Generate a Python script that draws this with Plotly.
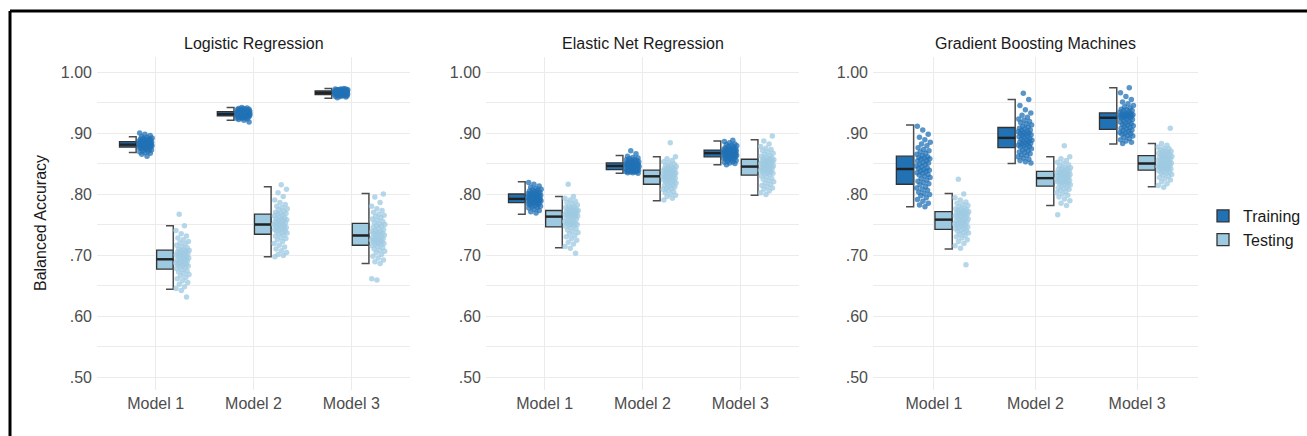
import plotly.graph_objects as go

W, H = 1307, 436

PANELS = ["Logistic Regression", "Elastic Net Regression", "Gradient Boosting Machines"]
MODELS = ["Model 1", "Model 2", "Model 3"]
GROUPS = ["Training", "Testing"]
Y_TICKVALS = [0.50, 0.55, 0.60, 0.65, 0.70, 0.75, 0.80, 0.85, 0.90, 0.95, 1.00]
Y_TICKTEXT = [".50", "", ".60", "", ".70", "", ".80", "", ".90", "", "1.00"]

# ---- box statistics: [panel][model] ----
TRAIN_LO = [[0.868, 0.921, 0.957], [0.767, 0.834, 0.848], [0.779, 0.850, 0.882]]
TRAIN_Q1 = [[0.877, 0.928, 0.963], [0.786, 0.840, 0.861], [0.816, 0.876, 0.906]]
TRAIN_MED = [[0.881, 0.931, 0.966], [0.792, 0.846, 0.867], [0.841, 0.892, 0.925]]
TRAIN_Q3 = [[0.886, 0.935, 0.969], [0.800, 0.851, 0.872], [0.862, 0.909, 0.933]]
TRAIN_HI = [[0.894, 0.942, 0.973], [0.820, 0.863, 0.887], [0.913, 0.955, 0.974]]

TEST_LO = [[0.644, 0.697, 0.686], [0.712, 0.789, 0.798], [0.710, 0.781, 0.812]]
TEST_Q1 = [[0.677, 0.734, 0.716], [0.746, 0.816, 0.831], [0.742, 0.813, 0.839]]
TEST_MED = [[0.693, 0.750, 0.732], [0.763, 0.829, 0.845], [0.758, 0.826, 0.850]]
TEST_Q3 = [[0.708, 0.767, 0.752], [0.773, 0.839, 0.857], [0.771, 0.837, 0.863]]
TEST_HI = [[0.748, 0.812, 0.801], [0.796, 0.861, 0.889], [0.801, 0.861, 0.883]]

# ---- individual runs (balanced accuracy x 1000) ----
LR_TRAIN_M1 = [862, 865, 867, 868, 869, 870, 871, 872, 873, 874, 874, 875, 876, 876, 877,
               877, 878, 878, 878, 879, 879, 879, 880, 880, 880, 880, 881, 881, 881, 881,
               882, 882, 882, 883, 883, 883, 884, 884, 884, 885, 885, 885, 886, 886, 886,
               887, 887, 888, 888, 889, 889, 890, 890, 891, 892, 893, 894, 896, 898, 900]
LR_TRAIN_M2 = [918, 921, 922, 923, 924, 924, 925, 925, 926, 926, 927, 927, 927, 928, 928,
               928, 929, 929, 929, 929, 930, 930, 930, 930, 930, 931, 931, 931, 931, 931,
               932, 932, 932, 932, 933, 933, 933, 933, 934, 934, 934, 934, 935, 935, 935,
               935, 936, 936, 936, 937, 937, 937, 938, 938, 939, 939, 940, 940, 941, 942]
LR_TRAIN_M3 = [958, 959, 960, 960, 961, 961, 961, 962, 962, 962, 962, 963, 963, 963, 963,
               964, 964, 964, 964, 964, 965, 965, 965, 965, 965, 965, 966, 966, 966, 966,
               966, 967, 967, 967, 967, 967, 968, 968, 968, 968, 968, 969, 969, 969, 969,
               969, 969, 970, 970, 970, 970, 970, 971, 971, 971, 971, 972, 972, 972, 973]
LR_TEST_M1 = [631, 642, 645, 648, 652, 655, 658, 661, 663, 666, 668, 670, 672, 674, 676,
              678, 679, 681, 682, 683, 684, 685, 686, 687, 688, 689, 690, 691, 692, 693,
              694, 695, 696, 697, 698, 699, 700, 701, 702, 703, 704, 705, 706, 707, 708,
              709, 710, 712, 714, 716, 718, 720, 722, 725, 728, 731, 735, 740, 748, 767]
LR_TEST_M2 = [697, 699, 701, 704, 707, 710, 713, 716, 719, 722, 725, 727, 729, 731, 733,
              735, 736, 737, 739, 740, 741, 742, 743, 744, 745, 746, 747, 748, 749, 750,
              751, 752, 753, 754, 755, 756, 757, 758, 759, 760, 761, 762, 764, 765, 767,
              768, 769, 770, 772, 774, 776, 778, 780, 783, 786, 790, 796, 802, 808, 815]
LR_TEST_M3 = [659, 661, 686, 689, 692, 695, 698, 701, 704, 706, 708, 710, 712, 714, 715,
              717, 718, 719, 720, 721, 722, 723, 724, 725, 726, 727, 728, 729, 730, 731,
              733, 734, 735, 736, 737, 738, 739, 740, 742, 744, 745, 747, 748, 750, 751,
              753, 755, 757, 759, 761, 763, 765, 767, 770, 773, 776, 780, 786, 795, 800]

EN_TRAIN_M1 = [769, 771, 773, 775, 777, 778, 779, 780, 781, 782, 783, 784, 784, 785, 786,
               786, 787, 787, 788, 788, 789, 789, 790, 790, 790, 791, 791, 791, 792, 792,
               793, 793, 794, 794, 795, 795, 796, 796, 797, 797, 798, 798, 799, 799, 800,
               800, 801, 802, 802, 803, 804, 805, 806, 807, 808, 809, 811, 813, 816, 819]
EN_TRAIN_M2 = [834, 835, 835, 836, 836, 837, 837, 837, 838, 838, 838, 839, 839, 839, 840,
               840, 841, 841, 842, 842, 842, 843, 843, 843, 844, 844, 845, 845, 845, 846,
               846, 847, 847, 847, 848, 848, 848, 849, 849, 849, 850, 850, 850, 851, 851,
               852, 852, 853, 853, 854, 855, 855, 856, 857, 858, 859, 860, 862, 866, 871]
EN_TRAIN_M3 = [848, 850, 851, 852, 853, 854, 855, 856, 857, 858, 858, 859, 859, 860, 861,
               861, 862, 862, 863, 863, 864, 864, 865, 865, 865, 866, 866, 866, 867, 867,
               867, 868, 868, 868, 869, 869, 869, 870, 870, 870, 871, 871, 871, 872, 872,
               873, 873, 874, 874, 875, 876, 877, 878, 879, 880, 881, 882, 884, 886, 888]
EN_TEST_M1 = [703, 711, 714, 718, 721, 724, 727, 730, 732, 735, 737, 739, 741, 743, 745,
              747, 748, 749, 750, 751, 752, 753, 754, 755, 756, 757, 759, 760, 761, 762,
              763, 764, 764, 765, 766, 767, 767, 768, 769, 770, 770, 771, 772, 772, 773,
              774, 775, 776, 777, 778, 779, 780, 782, 784, 786, 788, 790, 793, 796, 816]
EN_TEST_M2 = [790, 793, 796, 798, 800, 802, 804, 806, 808, 809, 810, 812, 813, 814, 815,
              817, 818, 819, 820, 821, 822, 823, 824, 825, 826, 826, 827, 828, 828, 829,
              830, 830, 831, 832, 832, 833, 834, 834, 835, 836, 836, 837, 838, 838, 839,
              840, 841, 842, 843, 844, 845, 846, 847, 849, 851, 853, 855, 858, 861, 884]
EN_TEST_M3 = [799, 802, 805, 808, 810, 812, 814, 816, 818, 820, 822, 824, 826, 828, 830,
              832, 833, 834, 835, 836, 837, 838, 839, 840, 841, 842, 842, 843, 844, 845,
              846, 847, 847, 848, 849, 850, 851, 851, 852, 853, 854, 855, 855, 856, 857,
              858, 859, 860, 862, 863, 865, 867, 869, 871, 873, 875, 878, 882, 887, 895]

GBM_TRAIN_M1 = [779, 782, 785, 788, 791, 794, 797, 799, 801, 803, 806, 808, 810, 812, 815,
                817, 819, 821, 823, 825, 827, 829, 831, 832, 834, 835, 837, 838, 839, 840,
                842, 843, 845, 846, 848, 849, 851, 852, 854, 855, 857, 858, 859, 860, 861,
                863, 865, 867, 869, 871, 873, 876, 879, 882, 885, 889, 893, 898, 905, 911]
GBM_TRAIN_M2 = [851, 853, 855, 857, 859, 861, 863, 864, 866, 868, 869, 871, 872, 874, 875,
                877, 878, 879, 880, 881, 882, 883, 884, 885, 886, 887, 888, 889, 890, 891,
                893, 894, 895, 896, 897, 898, 899, 900, 901, 902, 903, 904, 905, 907, 908,
                910, 911, 913, 915, 917, 919, 921, 923, 926, 929, 933, 938, 945, 955, 965]
GBM_TRAIN_M3 = [883, 885, 887, 889, 891, 893, 895, 896, 898, 899, 900, 901, 903, 904, 905,
                907, 908, 909, 911, 912, 913, 914, 916, 917, 918, 919, 920, 922, 923, 924,
                925, 926, 926, 927, 927, 928, 928, 929, 929, 930, 930, 931, 931, 932, 932,
                934, 935, 936, 937, 938, 939, 941, 943, 945, 948, 951, 955, 960, 966, 974]
GBM_TEST_M1 = [684, 711, 715, 719, 722, 725, 728, 730, 732, 734, 736, 737, 739, 740, 741,
               743, 744, 745, 746, 747, 748, 749, 750, 751, 752, 753, 754, 755, 756, 757,
               758, 759, 760, 761, 762, 763, 764, 765, 766, 767, 768, 769, 769, 770, 771,
               772, 773, 774, 775, 776, 777, 779, 781, 783, 785, 787, 790, 794, 800, 824]
GBM_TEST_M2 = [766, 781, 785, 789, 792, 795, 798, 800, 802, 804, 806, 808, 809, 810, 812,
               814, 815, 816, 817, 818, 819, 820, 820, 821, 822, 823, 823, 824, 825, 825,
               827, 827, 828, 829, 830, 830, 831, 832, 833, 833, 834, 835, 835, 836, 837,
               838, 839, 840, 841, 842, 843, 844, 846, 848, 850, 852, 855, 858, 861, 879]
GBM_TEST_M3 = [811, 814, 817, 820, 823, 825, 827, 829, 831, 832, 834, 835, 836, 837, 838,
               840, 841, 841, 842, 843, 843, 844, 845, 845, 846, 847, 847, 848, 849, 849,
               851, 852, 853, 853, 854, 855, 856, 857, 858, 859, 860, 860, 861, 862, 862,
               864, 865, 866, 867, 868, 869, 870, 871, 872, 874, 875, 877, 880, 883, 908]

TRAIN_POINTS = [[LR_TRAIN_M1, LR_TRAIN_M2, LR_TRAIN_M3],
                [EN_TRAIN_M1, EN_TRAIN_M2, EN_TRAIN_M3],
                [GBM_TRAIN_M1, GBM_TRAIN_M2, GBM_TRAIN_M3]]
TEST_POINTS = [[LR_TEST_M1, LR_TEST_M2, LR_TEST_M3],
               [EN_TEST_M1, EN_TEST_M2, EN_TEST_M3],
               [GBM_TEST_M1, GBM_TEST_M2, GBM_TEST_M3]]

# ---- styling / layout ----
FONT = "Liberation Sans, Arial, sans-serif"
C_TRAIN = "#2171b5"
C_TEST = "#9ecae1"
OUTLINE = "#333333"
GRID = "#ebebeb"
DOMAINS_PX = [(97, 410), (486, 799), (873, 1198)]
PLOT_TOP_PX, PLOT_BOT_PX = 57, 390
Y_RANGE = [0.4787, 1.0246]

# offsets (category units) for box / whisker / jittered points
GEOM = {
    "Training": dict(box_c=-0.285, box_w=0.17, whisk=-0.20, cap=0.075, pts0=-0.175, ptsw=0.14),
    "Testing": dict(box_c=0.095, box_w=0.17, whisk=0.18, cap=0.075, pts0=0.205, ptsw=0.14),
}

fig = go.Figure()
GOLD = 0.6180339887498949

for p in range(3):
    xa = "x" if p == 0 else f"x{p+1}"
    ya = "y" if p == 0 else f"y{p+1}"
    for g, name in enumerate(GROUPS):
        color = C_TRAIN if g == 0 else C_TEST
        lo = (TRAIN_LO if g == 0 else TEST_LO)[p]
        q1 = (TRAIN_Q1 if g == 0 else TEST_Q1)[p]
        med = (TRAIN_MED if g == 0 else TEST_MED)[p]
        q3 = (TRAIN_Q3 if g == 0 else TEST_Q3)[p]
        hi = (TRAIN_HI if g == 0 else TEST_HI)[p]
        pts = (TRAIN_POINTS if g == 0 else TEST_POINTS)[p]
        geo = GEOM[name]

        # whisker brackets
        wx, wy = [], []
        for m in range(3):
            xr = m + geo["whisk"]
            xl = xr - geo["cap"]
            wx += [xl, xr, xr, xl, None]
            wy += [lo[m], lo[m], hi[m], hi[m], None]
        fig.add_trace(go.Scatter(x=wx, y=wy, mode="lines", xaxis=xa, yaxis=ya,
                                 line=dict(color="#4d4d4d", width=1.5),
                                 showlegend=False, hoverinfo="skip"))

        # boxes
        fig.add_trace(go.Box(
            x=[m + geo["box_c"] for m in range(3)],
            q1=q1, median=med, q3=q3, lowerfence=q1, upperfence=q3,
            width=geo["box_w"], whiskerwidth=0,
            fillcolor=color, line=dict(color=OUTLINE, width=1.3),
            name=name, legendgroup=name, showlegend=(p == 0),
            xaxis=xa, yaxis=ya, boxpoints=False))

        # thick median lines
        mx, my = [], []
        for m in range(3):
            c = m + geo["box_c"]
            mx += [c - geo["box_w"] / 2, c + geo["box_w"] / 2, None]
            my += [med[m], med[m], None]
        fig.add_trace(go.Scatter(x=mx, y=my, mode="lines", xaxis=xa, yaxis=ya,
                                 line=dict(color="#222222", width=2.4),
                                 showlegend=False, hoverinfo="skip"))

        # jittered points
        px, py = [], []
        for m in range(3):
            for i, v in enumerate(pts[m]):
                frac = ((i + 1) * GOLD + 0.31 * m + 0.17 * g) % 1.0
                px.append(m + geo["pts0"] + geo["ptsw"] * frac)
                py.append(v / 1000.0)
        fig.add_trace(go.Scatter(x=px, y=py, mode="markers", xaxis=xa, yaxis=ya,
                                 marker=dict(color=color, size=5.5, opacity=0.75,
                                             line=dict(width=0)),
                                 showlegend=False, hoverinfo="skip"))

y_dom = [1 - PLOT_BOT_PX / H, 1 - PLOT_TOP_PX / H]
TICKFONT = dict(size=16, color="#4d4d4d", family=FONT)
axis_common_x = dict(range=[-0.6, 2.6], tickvals=[0, 1, 2], ticktext=MODELS,
                     showgrid=True, gridcolor=GRID, gridwidth=1, zeroline=False,
                     showline=False, ticks="", tickfont=TICKFONT, fixedrange=True,
                     ticklabelstandoff=2)
axis_common_y = dict(range=Y_RANGE, tickvals=Y_TICKVALS, ticktext=Y_TICKTEXT,
                     showgrid=True, gridcolor=GRID, gridwidth=1, zeroline=False,
                     showline=False, ticks="", tickfont=TICKFONT,
                     domain=y_dom, fixedrange=True, ticklabelstandoff=4)

layout = {}
for p in range(3):
    sx = "xaxis" if p == 0 else f"xaxis{p+1}"
    sy = "yaxis" if p == 0 else f"yaxis{p+1}"
    d0, d1 = DOMAINS_PX[p]
    layout[sx] = dict(axis_common_x, domain=[d0 / W, d1 / W],
                      anchor="y" if p == 0 else f"y{p+1}")
    layout[sy] = dict(axis_common_y, anchor="x" if p == 0 else f"x{p+1}")

annotations = []
for p, title in enumerate(PANELS):
    d0, d1 = DOMAINS_PX[p]
    annotations.append(dict(text=title, x=(d0 + d1) / 2 / W, y=1 - 43 / H,
                            xref="paper", yref="paper", showarrow=False,
                            xanchor="center", yanchor="middle",
                            font=dict(size=16, color="#1a1a1a", family=FONT)))
annotations.append(dict(text="Balanced Accuracy", x=40 / W, y=1 - 223 / H,
                        xref="paper", yref="paper", showarrow=False, textangle=-90,
                        xanchor="center", yanchor="middle",
                        font=dict(size=16, color="#1a1a1a", family=FONT)))

shapes = [
    dict(type="line", xref="paper", yref="paper", x0=10 / W, x1=1.0,
         y0=1 - 11 / H, y1=1 - 11 / H, line=dict(color="black", width=3)),
    dict(type="line", xref="paper", yref="paper", x0=10 / W, x1=10 / W,
         y0=0, y1=1 - 11 / H, line=dict(color="black", width=3)),
]

fig.update_layout(
    width=W, height=H,
    margin=dict(l=0, r=0, t=0, b=0, autoexpand=False),
    paper_bgcolor="white", plot_bgcolor="white",
    font=dict(family=FONT),
    boxmode="overlay",
    showlegend=True,
    legend=dict(x=1203 / W, y=1 - 228 / H, xanchor="left", yanchor="middle",
                font=dict(size=16, color="#1a1a1a", family=FONT),
                bgcolor="rgba(0,0,0,0)", tracegroupgap=0),
    annotations=annotations,
    shapes=shapes,
    **layout,
)

fig.write_html("out.html",
               config={"displayModeBar": False},
               post_script="document.body.style.margin='0px';document.body.style.overflow='hidden';")
